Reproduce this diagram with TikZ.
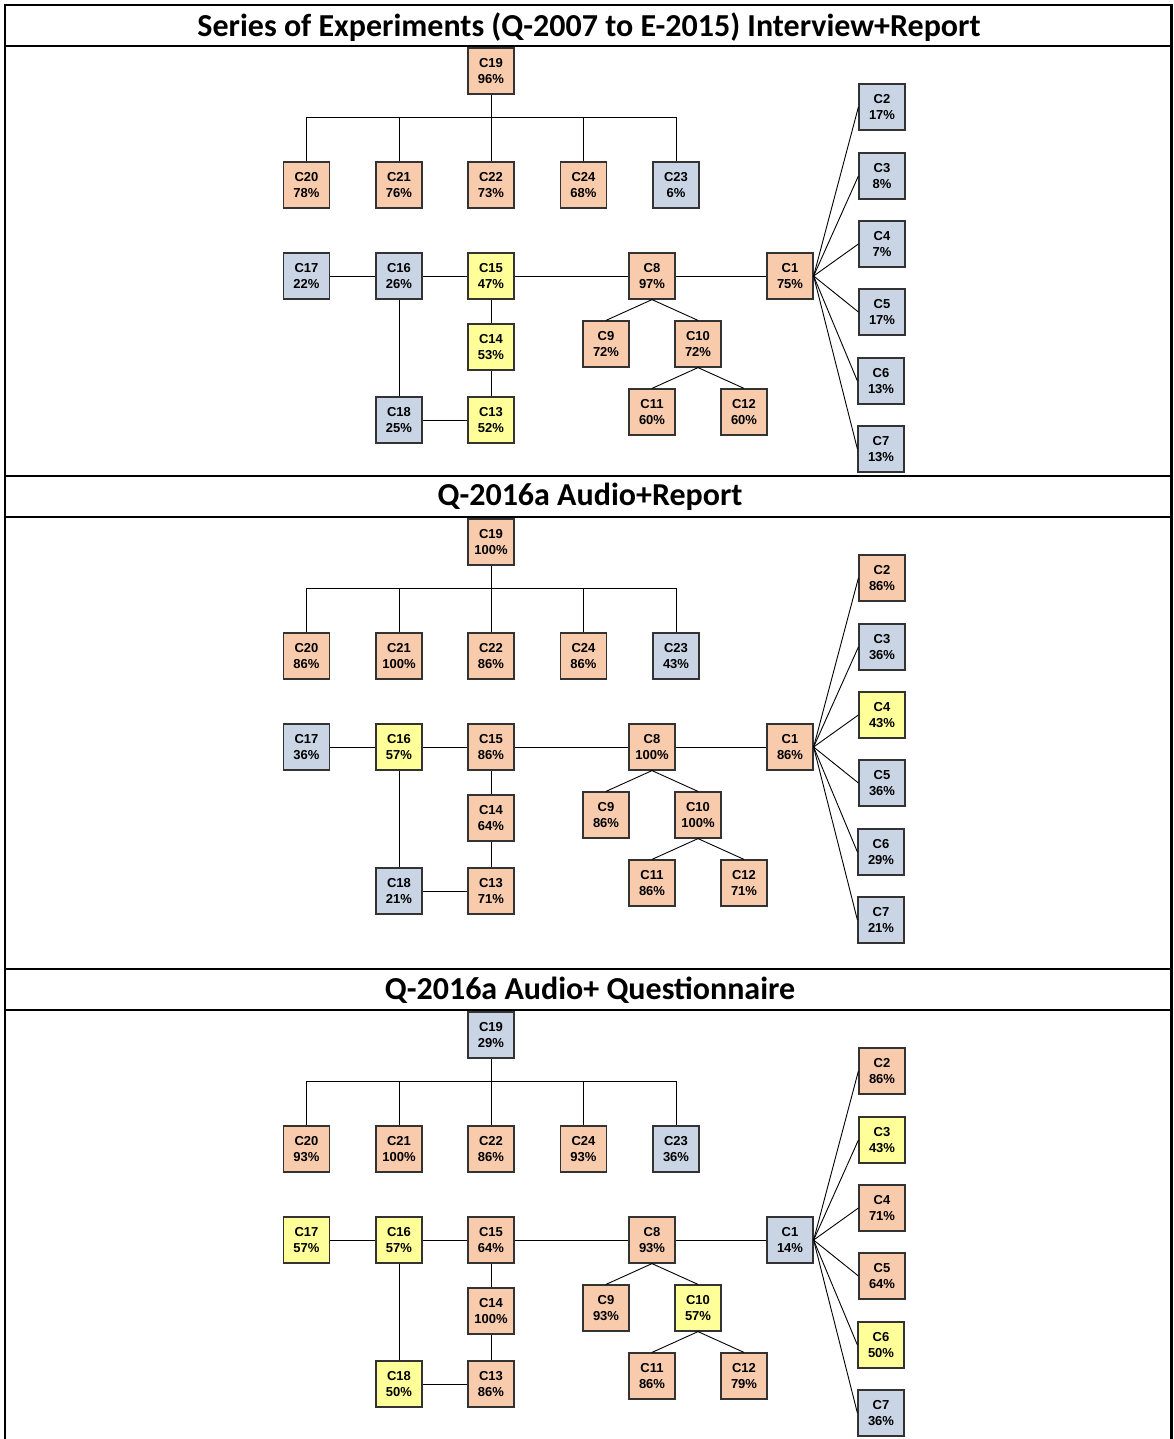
\documentclass[tikz,border=0pt]{standalone}
\usepackage{fontspec}
\setmainfont{Liberation Sans}
\newfontfamily\titlefont{Carlito}
\definecolor{orb}{HTML}{F8CBAD}
\definecolor{blb}{HTML}{C9D5E5}
\definecolor{ylb}{HTML}{FFFF99}
\tikzset{
  box/.style={draw=black!80, line width=1.2pt, minimum width=46pt, minimum height=46pt,
    inner sep=0pt, align=center, font=\fontsize{13}{15.5}\selectfont\bfseries},
  conn/.style={draw=black, line width=0.9pt},
  frame/.style={draw=black, line width=2.8pt},
  ttl/.style={font=\titlefont\fontsize{32}{34}\selectfont\bfseries, inner sep=0pt}
}
\newcommand\layoutsec[2]{%
  \begin{scope}[shift={(0,#2)}]
    \foreach \n/\px/\py in {C19/491/71, C20/306.5/185, C21/399/185, C22/491/185, C24/583.5/185, C23/676/185,
      C17/306.5/276, C16/399/276, C15/491/276, C8/652/276, C1/790/276,
      C14/491/347, C13/491/420, C18/399/420, C9/606/344, C10/698/344, C11/652/412, C12/744/412,
      C2/882/107, C3/882/176, C4/882/244, C5/882/312, C6/881/381, C7/881/449}
      {\coordinate (p#1\n) at (\px,\py);}
    \coordinate (#1bus) at (0,117);
  \end{scope}}
\newcommand\nodessec[2]{%
  \foreach \n/\c/\v in {#2}
    {\node[box, fill=\c] (#1\n) at (p#1\n) {\n\\\v\%};}
  \draw[conn] (#1C19.south) -- (#1C22.north);
  \draw[conn] (#1C20.north) -- (#1C20.north |- #1bus) -- (#1C23.north |- #1bus) -- (#1C23.north);
  \draw[conn] (#1C21.north) -- (#1C21.north |- #1bus);
  \draw[conn] (#1C24.north) -- (#1C24.north |- #1bus);
  \draw[conn] (#1C17.east) -- (#1C16.west);
  \draw[conn] (#1C16.east) -- (#1C15.west);
  \draw[conn] (#1C15.east) -- (#1C8.west);
  \draw[conn] (#1C8.east) -- (#1C1.west);
  \draw[conn] (#1C16.south) -- (#1C18.north);
  \draw[conn] (#1C18.east) -- (#1C13.west);
  \draw[conn] (#1C15.south) -- (#1C14.north);
  \draw[conn] (#1C14.south) -- (#1C13.north);
  \draw[conn] (#1C8.south) -- (#1C9.north);
  \draw[conn] (#1C8.south) -- (#1C10.north);
  \draw[conn] (#1C10.south) -- (#1C11.north);
  \draw[conn] (#1C10.south) -- (#1C12.north);
  \foreach \k in {2,...,7} {\draw[conn] (#1C1.east) -- (#1C\k.west);}
}
\begin{document}
\begin{tikzpicture}[x=1pt, y=-1pt]
\useasboundingbox (0,0) rectangle (1173,1439);
% frame
\draw[frame] (5,1439) -- (5,5) -- (1171.5,5) -- (1171.5,1439);
\foreach \yy in {46,476,517,969,1010} {\draw[frame] (5,\yy) -- (1171.5,\yy);}
\node[ttl] (t1) at (589,27) {Series of Experiments (Q-2007 to E-2015) Interview+Report};
\node[ttl] (t2) at (590,497) {Q-2016a Audio+Report};
\node[ttl] (t3) at (590,990) {Q-2016a Audio+ Questionnaire};
\layoutsec{a}{0}
\layoutsec{b}{471}
\layoutsec{c}{964}
\nodessec{a}{C19/orb/96, C20/orb/78, C21/orb/76, C22/orb/73, C24/orb/68, C23/blb/6,
  C17/blb/22, C16/blb/26, C15/ylb/47, C8/orb/97, C1/orb/75,
  C14/ylb/53, C13/ylb/52, C18/blb/25, C9/orb/72, C10/orb/72, C11/orb/60, C12/orb/60,
  C2/blb/17, C3/blb/8, C4/blb/7, C5/blb/17, C6/blb/13, C7/blb/13}
\nodessec{b}{C19/orb/100, C20/orb/86, C21/orb/100, C22/orb/86, C24/orb/86, C23/blb/43,
  C17/blb/36, C16/ylb/57, C15/orb/86, C8/orb/100, C1/orb/86,
  C14/orb/64, C13/orb/71, C18/blb/21, C9/orb/86, C10/orb/100, C11/orb/86, C12/orb/71,
  C2/orb/86, C3/blb/36, C4/ylb/43, C5/blb/36, C6/blb/29, C7/blb/21}
\nodessec{c}{C19/blb/29, C20/orb/93, C21/orb/100, C22/orb/86, C24/orb/93, C23/blb/36,
  C17/ylb/57, C16/ylb/57, C15/orb/64, C8/orb/93, C1/blb/14,
  C14/orb/100, C13/orb/86, C18/ylb/50, C9/orb/93, C10/ylb/57, C11/orb/86, C12/orb/79,
  C2/orb/86, C3/ylb/43, C4/orb/71, C5/orb/64, C6/ylb/50, C7/blb/36}
\end{tikzpicture}
\end{document}
